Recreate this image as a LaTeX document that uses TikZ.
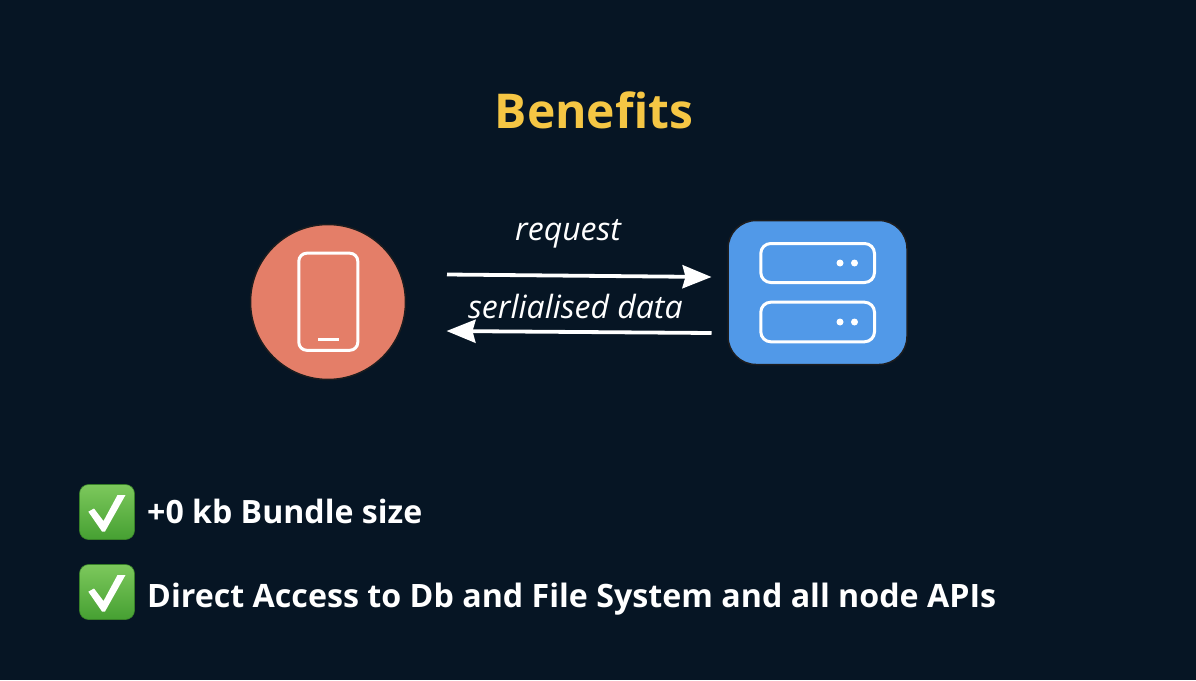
\documentclass[tikz,border=0pt]{standalone}
\usepackage{fontspec}
\setmainfont{Open Sans}
\usetikzlibrary{arrows.meta}
\definecolor{bgc}{HTML}{061524}
\definecolor{titlec}{HTML}{F5C644}
\definecolor{coral}{HTML}{E47E68}
\definecolor{srv}{HTML}{5199E8}
\definecolor{edgec}{HTML}{1D1D1F}
\definecolor{chkt}{HTML}{7CC85C}
\definecolor{chkb}{HTML}{45A032}
\tikzset{
  txt/.style={text=white,inner sep=0pt,anchor=base west},
  icon/.style={draw=white,line width=3pt,rounded corners=8pt},
  flow/.style={draw=white,line width=3.8pt,-{Stealth[length=29pt,width=23pt,inset=3pt]}},
  chkbox/.style={rounded corners=9pt,top color=chkt,bottom color=chkb,draw=chkb!80!black,line width=.6pt},
  dotc/.style={circle,fill=white,inner sep=0pt,minimum size=7pt},
}
\newcommand{\checkmarkicon}[2]{%
  \path[chkbox] (#1,#2) rectangle ++(55,55);
  \fill[white] (#1+8.8,#2+27.2) -- (#1+14.5,#2+24) -- (#1+24,#2+36.5) -- (#1+38,#2+10.5) -- (#1+46,#2+10.5) -- (#1+25.5,#2+47) -- (#1+22.5,#2+47) -- cycle;
}
\begin{document}
\begin{tikzpicture}[x=1pt,y=-1pt]
\path[use as bounding box,fill=bgc] (0,0) rectangle (1196,680);
\node[anchor=base,inner sep=0pt,text=titlec,font=\fontsize{48}{54}\selectfont\bfseries] (title) at (594,128) {Benefits};
% client
\node[circle,fill=coral,draw=edgec,line width=1.5pt,minimum size=155pt,inner sep=0pt] (client) at (328,302) {};
\draw[icon] (298.8,253.2) rectangle (357.8,350.3);
\draw[draw=white,line width=2.8pt] (318,339.5) -- (339,339.5);
% server
\node[fill=srv,draw=edgec,line width=1.5pt,rounded corners=28pt,minimum width=179pt,minimum height=144pt,inner sep=0pt] (server) at (817.5,292.5) {};
\draw[icon,rounded corners=10pt] (760.8,243.5) rectangle (874.5,282.5);
\draw[icon,rounded corners=10pt] (760.8,302.2) rectangle (874.5,341.8);
\node[dotc] (d1) at (840,263) {};
\node[dotc] (d2) at (854.5,263) {};
\node[dotc] (d3) at (840,322) {};
\node[dotc] (d4) at (854.5,322) {};
% arrows
\coordinate (a1) at (447,274.5);
\coordinate (a2) at (711.5,277);
\coordinate (b1) at (711.5,333);
\coordinate (b2) at (446.5,331);
\draw[flow] (a1) -- (a2);
\draw[flow] (b1) -- (b2);
\node[txt,font=\fontsize{32}{38}\selectfont\itshape] (req) at (515,240) {request};
\node[txt,font=\fontsize{32}{38}\selectfont\itshape] (ser) at (468,318.5) {serlialised data};
% list
\checkmarkicon{79.5}{484.5}
\checkmarkicon{79.5}{564.5}
\node[txt,font=\fontsize{32.1}{38}\selectfont\bfseries] (l1) at (147,523) {+0 kb Bundle size};
\node[txt,font=\fontsize{32.2}{38}\selectfont\bfseries] (l2) at (147,607) {Direct Access to Db and File System and all node APIs};
\end{tikzpicture}
\end{document}
